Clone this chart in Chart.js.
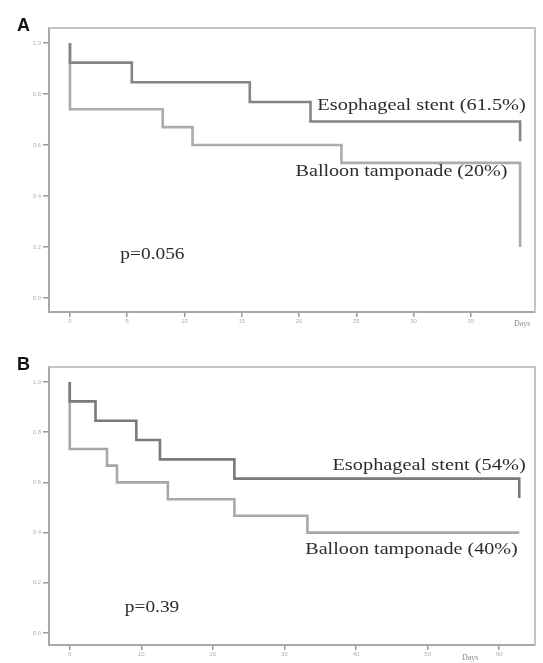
<!DOCTYPE html>
<html>
<head>
<meta charset="utf-8">
<script src="https://cdn.jsdelivr.net/npm/chart.js@4.4.1/dist/chart.umd.min.js"></script>
<style>
  html, body { margin: 0; padding: 0; background: #fff; }
  #wrap { position: relative; width: 543px; height: 663px; }
  .box { position: absolute; left: 0; width: 543px; }
</style>
</head>
<body>
<div id="wrap">
  <div class="box" style="top:0;height:330px"><canvas id="cA" width="543" height="330"></canvas></div>
  <div class="box" style="top:330px;height:333px"><canvas id="cB" width="543" height="333"></canvas></div>
</div>
<script>
// ---- data ----
const yTicks = [0, 0.2, 0.4, 0.6, 0.8, 1.0];
const yTickLabels = ["0.0", "0.2", "0.4", "0.6", "0.8", "1.0"];

const xTicksA = [0, 5, 10, 15, 20, 25, 30, 35];
const xTicksB = [0, 10, 20, 30, 40, 50, 60];

// Panel A (days)
const stentA_time = [0, 0, 5.4, 15.7, 21.0, 39.3];
const stentA_surv = [1.0, 0.923, 0.846, 0.769, 0.692, 0.615];
const balloonA_time = [0, 0, 8.1, 10.7, 23.7, 39.3];
const balloonA_surv = [1.0, 0.74, 0.67, 0.60, 0.53, 0.20];

// Panel B (days)
const stentB_time = [0, 0, 3.6, 9.3, 12.6, 23.0, 62.8];
const stentB_surv = [1.0, 0.923, 0.846, 0.769, 0.692, 0.615, 0.538];
const balloonB_time = [0, 0, 5.2, 6.6, 13.7, 23.0, 33.2, 62.8];
const balloonB_surv = [1.0, 0.733, 0.667, 0.60, 0.533, 0.467, 0.40, 0.40];

const labelsA = [
  { text: "Esophageal stent (61.5%)", x0: 21.6, x1: 39.8, y: 0.753 },
  { text: "Balloon tamponade (20%)", x0: 19.7, x1: 38.2, y: 0.494 },
  { text: "p=0.056", x0: 4.4, x1: 10.0, y: 0.169 }
];
const labelsB = [
  { text: "Esophageal stent (54%)", x0: 36.7, x1: 63.7, y: 0.665 },
  { text: "Balloon tamponade (40%)", x0: 32.9, x1: 62.6, y: 0.33 },
  { text: "p=0.39", x0: 7.7, x1: 15.3, y: 0.10 }
];

function pts(t, s) { return t.map((v, i) => ({ x: v, y: s[i] })); }

function makeChart(id, cfg) {
  const annot = {
    id: 'annot',
    afterDraw(chart) {
      const ctx = chart.ctx;
      const xs = chart.scales.x, ys = chart.scales.y, ca = chart.chartArea;
      ctx.save();
      // frame (top and right)
      ctx.strokeStyle = '#c4c4c4';
      ctx.lineWidth = 2;
      ctx.beginPath();
      ctx.moveTo(ca.left, ca.top); ctx.lineTo(ca.right, ca.top); ctx.lineTo(ca.right, ca.bottom);
      ctx.stroke();
      // text labels
      ctx.fillStyle = '#2c2c2c';
      ctx.font = '16px "Liberation Serif", "DejaVu Serif", serif';
      ctx.textBaseline = 'middle';
      cfg.labels.forEach(l => {
        const px0 = xs.getPixelForValue(l.x0), px1 = xs.getPixelForValue(l.x1);
        const py = ys.getPixelForValue(l.y);
        const w = ctx.measureText(l.text).width;
        const sx = (px1 - px0) / w;
        ctx.save();
        ctx.translate(px0, py);
        ctx.scale(sx, 1);
        ctx.fillText(l.text, 0, 0);
        ctx.restore();
      });
      // panel letter
      ctx.fillStyle = '#111';
      ctx.font = 'bold 18px "Liberation Sans", Arial, sans-serif';
      ctx.textBaseline = 'alphabetic';
      ctx.fillText(cfg.letter, cfg.letterPos[0], cfg.letterPos[1]);
      // Days label
      ctx.fillStyle = '#888';
      ctx.font = '8px "Liberation Serif", serif';
      ctx.fillText('Days', cfg.daysPos[0], cfg.daysPos[1]);
      ctx.restore();
    }
  };
  return new Chart(document.getElementById(id), {
    type: 'line',
    data: {
      datasets: [
        { label: 'Esophageal stent', data: cfg.stent, stepped: true, borderColor: cfg.stentColor, borderWidth: 2.6, pointRadius: 0, fill: false },
        { label: 'Balloon tamponade', data: cfg.balloon, stepped: true, borderColor: cfg.balloonColor, borderWidth: 2.6, pointRadius: 0, fill: false }
      ]
    },
    options: {
      responsive: false,
      animation: false,
      layout: { padding: { left: 0, top: cfg.top, right: 8, bottom: 0 } },
      plugins: { legend: { display: false }, tooltip: { enabled: false } },
      scales: {
        x: {
          type: 'linear', min: cfg.xmin, max: cfg.xmax,
          afterBuildTicks: s => { s.ticks = cfg.xTicks.map(v => ({ value: v })); },
          afterFit: s => { s.height = 18; },
          ticks: { color: '#b0b0b0', font: { size: 6 }, padding: 1, callback: v => String(v), autoSkip: false, maxRotation: 0 },
          grid: { display: true, drawOnChartArea: false, drawTicks: true, tickLength: 5, color: '#999', lineWidth: 1.5 },
          border: { display: true, color: '#a8a8a8', width: 2 }
        },
        y: {
          min: cfg.ymin, max: cfg.ymax,
          afterBuildTicks: s => { s.ticks = yTicks.map(v => ({ value: v })); },
          afterFit: s => { s.width = 49; },
          ticks: { color: '#b0b0b0', font: { size: 6 }, padding: 2,
            callback: v => { const i = yTicks.findIndex(t => Math.abs(t - v) < 1e-6); return i >= 0 ? yTickLabels[i] : ''; } },
          grid: { display: true, drawOnChartArea: false, drawTicks: true, tickLength: 6, color: '#999', lineWidth: 1.5 },
          border: { display: true, color: '#a8a8a8', width: 2 }
        }
      }
    },
    plugins: [annot]
  });
}

makeChart('cA', {
  stent: pts(stentA_time, stentA_surv), balloon: pts(balloonA_time, balloonA_surv),
  stentColor: '#858585', balloonColor: '#ababab',
  xTicks: xTicksA, xmin: -1.83, xmax: 40.6, ymin: -0.055, ymax: 1.059, top: 28,
  labels: labelsA, letter: 'A', letterPos: [17, 31], daysPos: [514, 326]
});
makeChart('cB', {
  stent: pts(stentB_time, stentB_surv), balloon: pts(balloonB_time, balloonB_surv),
  stentColor: '#7a7a7a', balloonColor: '#a8a8a8',
  xTicks: xTicksB, xmin: -2.9, xmax: 65.0, ymin: -0.048, ymax: 1.06, top: 37,
  labels: labelsB, letter: 'B', letterPos: [17, 40], daysPos: [462, 330]
});
</script>
</body>
</html>
